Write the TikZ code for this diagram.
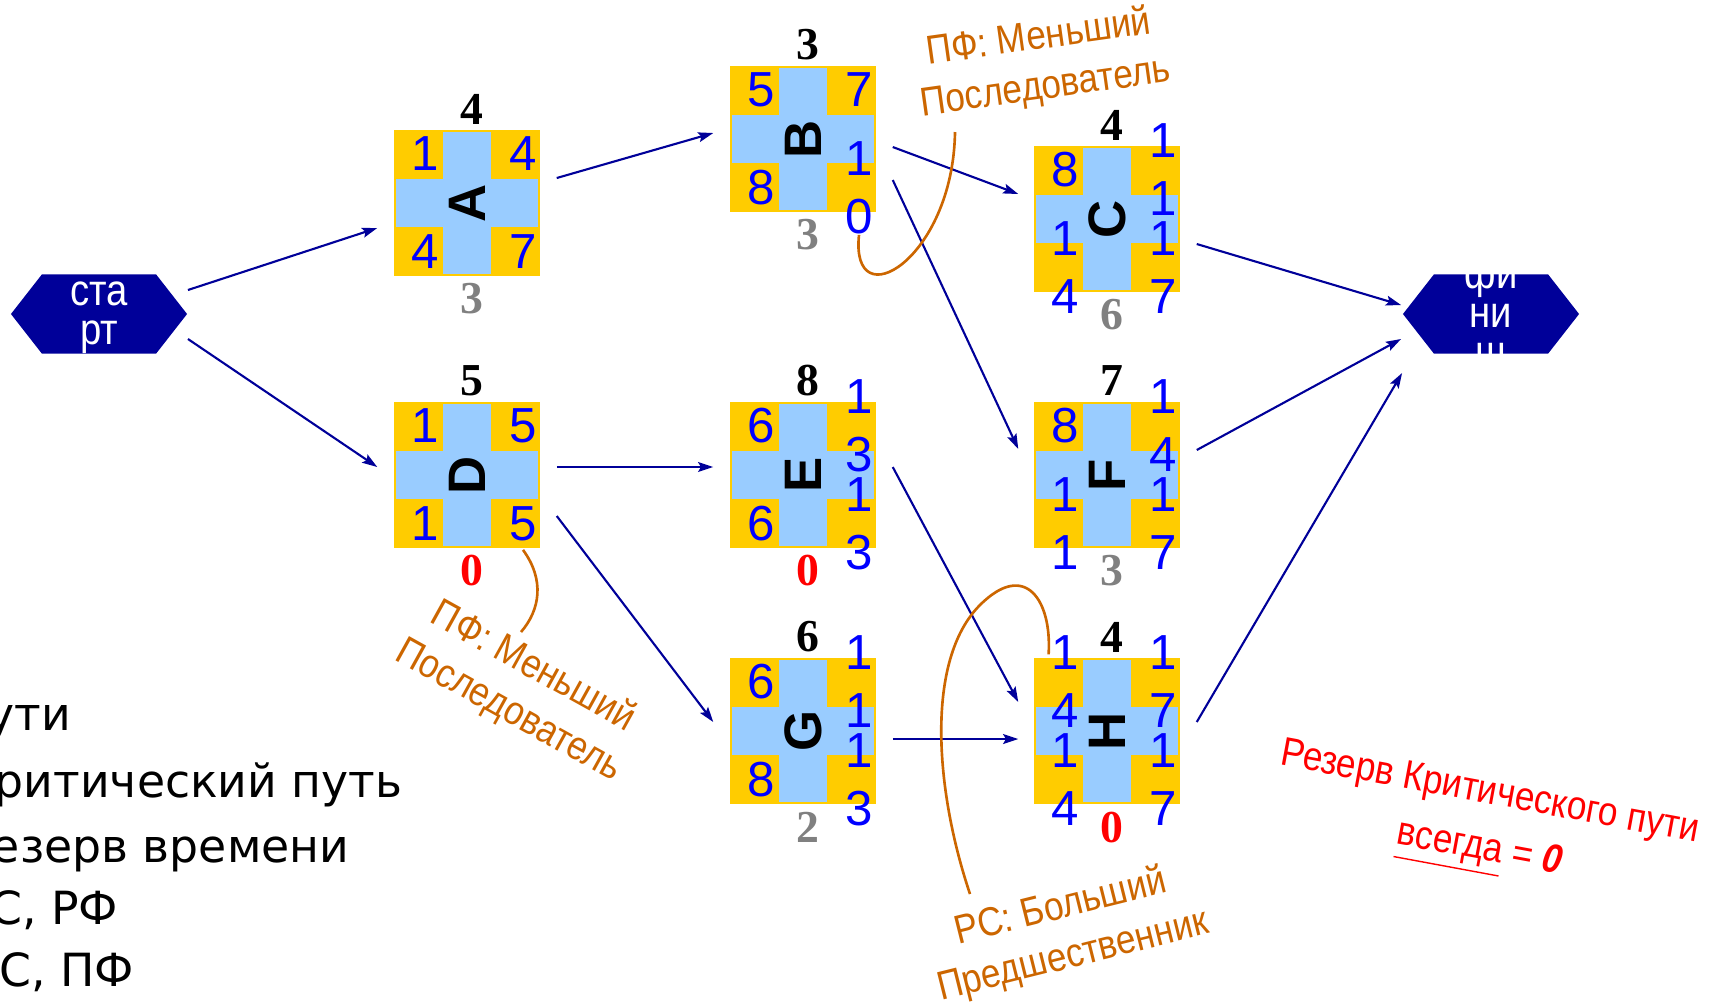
\documentclass[tikz,border=0pt]{standalone}
\usepackage{fontspec}
\setmainfont{Liberation Serif}
\setsansfont{Liberation Sans}
\newfontfamily\narrowsans[FakeStretch=0.87]{Liberation Sans}
\newfontfamily\listsans{DejaVu Sans}
\usetikzlibrary{arrows.meta,shapes.symbols}
\definecolor{actorange}{RGB}{255,204,0}
\definecolor{actblue}{RGB}{153,204,255}
\definecolor{hexblue}{RGB}{0,0,153}
\definecolor{numblue}{RGB}{0,0,255}
\definecolor{notebrown}{RGB}{204,102,0}
\definecolor{slackgray}{RGB}{128,128,128}
\begin{document}
\begin{tikzpicture}[x=0.01cm,y=-0.01cm,
  actbox/.style={rectangle,fill=actorange,minimum size=1.46cm,inner sep=0pt},
  actletter/.style={font=\sffamily\bfseries\fontsize{15}{15}\selectfont,rotate=90,inner sep=0pt},
  cornernum/.style={font=\sffamily\fontsize{14}{16.5}\selectfont,text=numblue,align=center,inner sep=0pt},
  durnum/.style={font=\rmfamily\bfseries\fontsize{13}{13}\selectfont,inner sep=0pt},
  terminal/.style={signal,signal to=east and west,signal pointer angle=104,fill=hexblue,
    minimum width=1.76cm,minimum height=0.79cm,inner sep=0pt},
  terminaltext/.style={font=\narrowsans\fontsize{12.5}{11.1}\selectfont,text=white,align=center,inner sep=0pt},
  link/.style={draw=hexblue,line width=0.6pt,-{Stealth[length=4.3pt,width=2.8pt,inset=0.8pt]}},
  note/.style={font=\narrowsans\fontsize{11.5}{14.2}\selectfont,text=notebrown,align=center,inner sep=0pt},
  notelink/.style={draw=notebrown,line width=0.75pt},
  critnote/.style={font=\narrowsans\fontsize{11.5}{16}\selectfont,text=red,align=center,inner sep=0pt},
  listline/.style={font=\listsans\fontsize{13}{13}\selectfont,anchor=base east,inner sep=0pt}]
 \useasboundingbox (0,0) rectangle (1709,1005);
 \node[terminal] (start) at (99,314) {};
 \node[terminaltext] (starttext) at ([shift={(0,4)}]start.center) {ста\\рт};
 \node[terminal] (finish) at (1491,314) {};
 \node[terminaltext] (finishtext) at ([shift={(0,-2)}]finish.center) {фи\\ни\\ш};
 \foreach \name/\x/\y/\tl/\tr/\bl/\br/\dur/\slack/\slackcol in {
    A/467/203/1/4/4/7/4/3/slackgray,
    B/803/139/5/7/8/{1\\0}/3/3/slackgray,
    C/1107/219/8/{1\\1}/{1\\4}/{1\\7}/4/6/slackgray,
    D/467/475/1/5/1/5/5/0/red,
    E/803/475/6/{1\\3}/6/{1\\3}/8/0/red,
    F/1107/475/8/{1\\4}/{1\\1}/{1\\7}/7/3/slackgray,
    G/803/731/6/{1\\1}/8/{1\\3}/6/2/slackgray,
    H/1107/731/{1\\4}/{1\\7}/{1\\4}/{1\\7}/4/0/red}
 {
    \node[actbox] (\name) at (\x,\y) {};
    \fill[actblue] ([shift={(-24,-71)}]\name.center) rectangle ([shift={(24,71)}]\name.center);
    \fill[actblue] ([shift={(-71,-24)}]\name.center) rectangle ([shift={(71,24)}]\name.center);
    \node[actletter] (\name-letter) at (\name.center) {\name};
    \node[cornernum] (\name-tl) at ([shift={(-42,-49)}]\name.center) {\tl};
    \node[cornernum] (\name-tr) at ([shift={(56,-49)}]\name.center) {\tr};
    \node[cornernum] (\name-bl) at ([shift={(-42,49)}]\name.center) {\bl};
    \node[cornernum] (\name-br) at ([shift={(56,49)}]\name.center) {\br};
    \node[durnum] (\name-dur) at ([shift={(5,-94)}]\name.center) {\dur};
    \node[durnum,text=\slackcol] (\name-slack) at ([shift={(5,96)}]\name.center) {\slack};
 }
 \draw[link] ([shift={(0,-24)}]start.east) -- ([shift={(-16,25)}]A.west);
 \draw[link] ([shift={(0,25)}]start.east) -- ([shift={(-16,-8)}]D.west);
 \draw[link] ([shift={(16,-25)}]A.east) -- ([shift={(-16,-6)}]B.west);
 \draw[link] ([shift={(16,8)}]B.east) -- ([shift={(-15,-25)}]C.west);
 \draw[link] ([shift={(16,41)}]B.east) -- ([shift={(-15,-26)}]F.west);
 \draw[link] ([shift={(16,25)}]C.east) -- ([shift={(-1,-9)}]finish.west);
 \draw[link] ([shift={(16,-8)}]D.east) -- ([shift={(-16,-8)}]E.west);
 \draw[link] ([shift={(16,41)}]D.east) -- ([shift={(-16,-9)}]G.west);
 \draw[link] ([shift={(16,-8)}]E.east) -- ([shift={(-15,-29)}]H.west);
 \draw[link] ([shift={(16,-25)}]F.east) -- ([shift={(-1,25)}]finish.west);
 \draw[link] ([shift={(16,8)}]G.east) -- ([shift={(-15,8)}]H.west);
 \draw[link] ([shift={(16,-9)}]H.east) -- ([shift={(0,59)}]finish.west);
 \node[note,rotate=8] (notebc) at (1042,63) {ПФ: Меньший\\Последователь};
 \node[note,rotate=-29] (notedg) at (521,689) {ПФ: Меньший\\Последователь};
 \node[note,rotate=14] (noteh) at (1067,932) {РС: Больший\\Предшественник};
 \node[critnote,rotate=-10.5] (critnote) at (1484,825) {Резерв Критического пути\\\underline{всегда} = \textbf{\textit{0}}};
 \draw[notelink] ([shift={(-87,69)}]notebc.center) .. controls (953,260) and (850,320) .. (B-br.south);
 \draw[notelink] ([shift={(0,8)}]D-br.south) .. controls (545,580) and (540,610) .. ([shift={(0,-57)}]notedg.center);
 \draw[notelink] ([shift={(-97,-38)}]noteh.center) .. controls (935,790) and (925,660) .. (980,605)
    .. controls (1025,560) and (1052,600) .. ([shift={(-2,19)}]H-tl.north west);
 \node[listline] (listpaths) at (72,730) {Пути};
 \node[listline] (listcrit) at (403,797) {Критический путь};
 \node[listline] (listslack) at (350,862) {Резерв времени};
 \node[listline] (listearly) at (119,924) {РС, РФ};
 \node[listline] (listlate) at (135,986) {ПС, ПФ};
\end{tikzpicture}
\end{document}
